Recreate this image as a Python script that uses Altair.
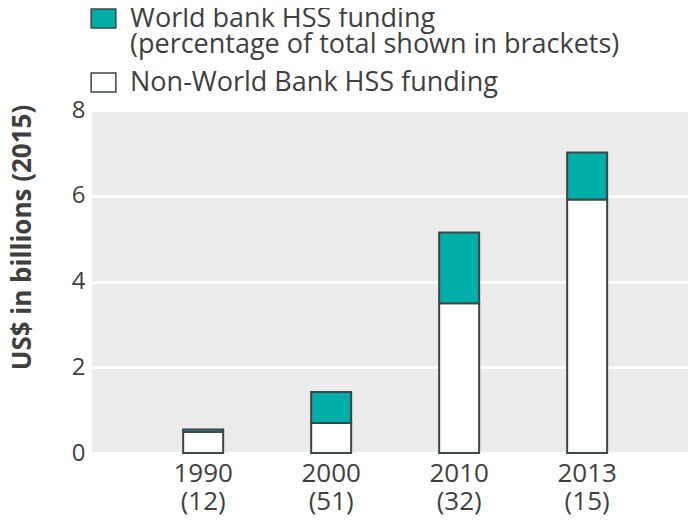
import altair as alt
import pandas as pd

years = ["1990", "2000", "2010", "2013"]
wb_pct = ["12", "51", "32", "15"]
totals = [0.55, 1.42, 5.14, 7.01]
non_wb = [0.49, 0.70, 3.49, 5.91]
series = ["World bank HSS funding|(percentage of total shown in brackets)",
          "Non-World Bank HSS funding"]
colors = ["#00aea9", "#ffffff"]

rows = []
for y, p, t, n in zip(years, wb_pct, totals, non_wb):
    cat = f"{y}|({p})"
    rows.append({"cat": cat, "series": series[1], "value": n, "ord": 0})
    rows.append({"cat": cat, "series": series[0], "value": round(t - n, 3), "ord": 1})
df = pd.DataFrame(rows)

FONT = "Open Sans"
TXT = "#3f3f3f"

chart = alt.Chart(df).mark_bar(stroke="#3c4646", strokeWidth=2).encode(
    x=alt.X("cat:N", sort=[f"{y}|({p})" for y, p in zip(years, wb_pct)],
            scale=alt.Scale(paddingInner=0.6875, paddingOuter=0.672, align=0.53),
            axis=alt.Axis(title=None, labelExpr="split(datum.label, '|')",
                          labelAngle=0, labelFontSize=26, labelColor=TXT,
                          labelFont=FONT, labelPadding=7, labelLineHeight=28,
                          domain=False, ticks=False)),
    y=alt.Y("value:Q", stack="zero",
            scale=alt.Scale(domain=[0, 8], nice=False),
            axis=alt.Axis(title="US$ in billions (2015)", values=[0, 2, 4, 6, 8],
                          titleFontSize=26, titleFont=FONT, titleFontWeight="bold",
                          titleColor=TXT, titleAngle=-90, titleAlign="center",
                          titleBaseline="middle", titleX=-70, titleY=127,
                          labelFontSize=24, labelColor=TXT, labelFont=FONT,
                          labelPadding=7, domain=False, ticks=False,
                          grid=True, gridColor="white", gridWidth=3)),
    color=alt.Color("series:N", sort=series,
                    scale=alt.Scale(domain=series, range=colors),
                    legend=alt.Legend(title=None, orient="none", legendX=-2, legendY=-105,
                                      labelExpr="split(datum.label, '|')",
                                      symbolType="M-1.3,-1H1.3V1H-1.3Z", symbolSize=361,
                                      symbolStrokeColor="#3c4646", symbolStrokeWidth=1.5,
                                      labelFontSize=27, labelFont=FONT, labelColor=TXT,
                                      labelBaseline="middle",
                                      labelOffset=13, rowPadding=10, labelLimit=650)),
    order=alt.Order("ord:Q"),
).properties(
    width=596, height=343,
    autosize=alt.AutoSizeParams(type="none"),
    padding={"left": 84, "top": 102, "right": 4, "bottom": 64},
).configure(
    view=alt.ViewConfig(fill="#ebebeb", strokeWidth=0),
    style={"guide-label": {"lineHeight": 26}},
)

chart.save("out.html", embed_options={"renderer": "svg", "actions": False})
